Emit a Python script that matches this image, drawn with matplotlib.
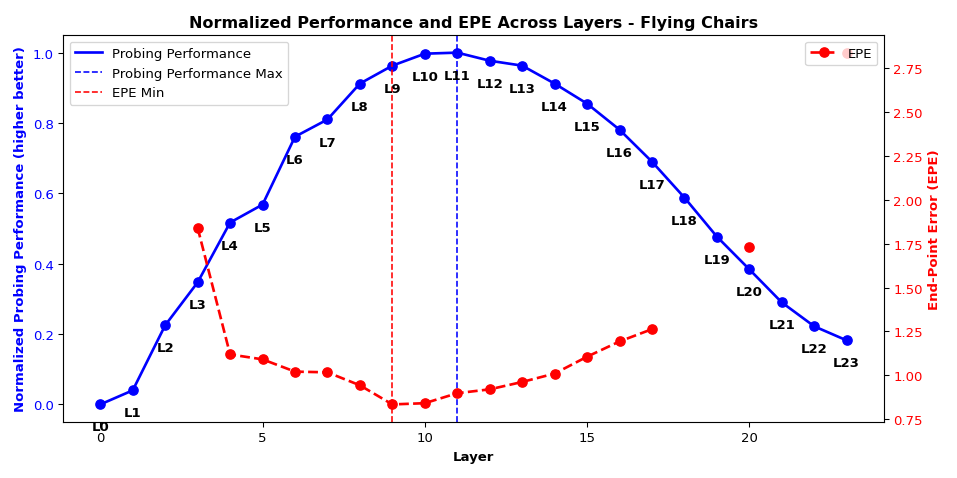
import numpy as np
import matplotlib
matplotlib.use("Agg")
import matplotlib.pyplot as plt
from matplotlib.lines import Line2D

# --- data ---
layers = list(range(24))
probing = [0.0, 0.04, 0.225, 0.347, 0.517, 0.568, 0.761, 0.81, 0.912, 0.963,
           0.997, 1.0, 0.977, 0.963, 0.912, 0.855, 0.781, 0.69, 0.588, 0.477,
           0.384, 0.29, 0.222, 0.182]
nan = np.nan
epe = [nan, nan, nan, 1.841, 1.119, 1.091, 1.021, 1.017, 0.943, 0.834,
       0.841, 0.898, 0.92, 0.962, 1.01, 1.106, 1.193, 1.263, nan, nan,
       1.729, nan, nan, 2.84]
layer_labels = [f"L{i}" for i in layers]

best_probe = int(np.nanargmax(probing))
best_epe = int(np.nanargmin(epe))

# rendered at 10x5 inches, slightly scaled down to 957x479
fig, ax1 = plt.subplots(figsize=(10.0, 5.005), dpi=95.7)
fig.subplots_adjust(left=0.0658, right=0.9237, top=0.9248, bottom=0.1169)

ax1.plot(layers, probing, color='blue', linestyle='-', linewidth=2)
ax1.plot(layers, probing, color='blue', marker='o', linestyle='none', markersize=7)
ax1.axvline(best_probe, color='blue', linestyle='--', linewidth=1.2)
ax1.axvline(best_epe, color='red', linestyle='--', linewidth=1.2)

for x, y, lab in zip(layers, probing, layer_labels):
    ax1.annotate(lab, (x, y), textcoords='offset points', xytext=(0, -17),
                 ha='center', va='center', fontsize=10, fontweight='bold')

ax1.set_xlabel('Layer', fontweight='bold')
ax1.set_ylabel('Normalized Probing Performance (higher better)', color='blue',
               fontweight='bold')
ax1.tick_params(axis='y', labelcolor='blue')

handles = [
    Line2D([], [], color='blue', linestyle='-', linewidth=2),
    Line2D([], [], color='blue', linestyle='--', linewidth=1.2),
    Line2D([], [], color='red', linestyle='--', linewidth=1.2),
]
ax1.legend(handles, ['Probing Performance', 'Probing Performance Max', 'EPE Min'],
           loc='upper left')

ax2 = ax1.twinx()
ax2.plot(layers, epe, color='red', marker='o', linestyle='--', linewidth=2,
         markersize=7, label='EPE')
ax2.set_ylabel('End-Point Error (EPE)', color='red', fontweight='bold')
ax2.tick_params(axis='y', labelcolor='red')
ax2.legend(loc='upper right')

ax1.set_title('Normalized Performance and EPE Across Layers - Flying Chairs',
              fontsize=12, fontweight='bold')

plt.savefig('out.png', dpi=95.7)
plt.close()
